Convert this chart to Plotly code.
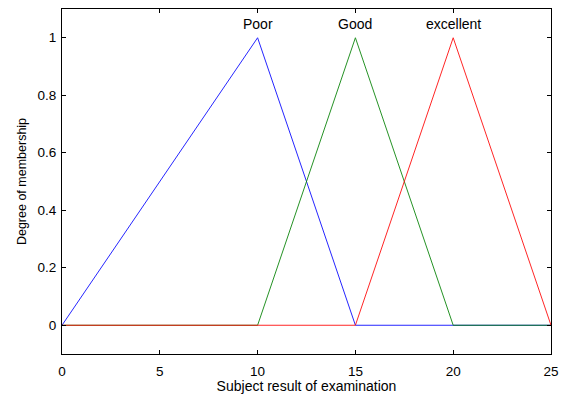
import plotly.graph_objects as go

# Triangular membership functions over the examination score
x_poor = [0, 10, 15, 25]
y_poor = [0, 1, 0, 0]
x_good = [0, 10, 15, 20, 25]
y_good = [0, 0, 1, 0, 0]
x_exc = [0, 15, 20, 25]
y_exc = [0, 0, 1, 0]

mf_names = ["Poor", "Good", "excellent"]
mf_peaks = [10, 15, 20]
label_y = 1.047

x_ticks = [0, 5, 10, 15, 20, 25]
y_ticks = [0, 0.2, 0.4, 0.6, 0.8, 1]
y_ticktext = ["0", "0.2", "0.4", "0.6", "0.8", "1"]

FONT = "Liberation Sans, Arial"

fig = go.Figure()
for xs, ys, col in [(x_poor, y_poor, "#0000ff"),
                    (x_good, y_good, "#008000"),
                    (x_exc, y_exc, "#ff0000")]:
    fig.add_trace(go.Scatter(x=xs, y=ys, mode="lines",
                             line=dict(color=col, width=1),
                             opacity=0.85, showlegend=False,
                             hoverinfo="skip"))

for name, pk in zip(mf_names, mf_peaks):
    fig.add_annotation(x=pk, y=label_y, text=name, showarrow=False,
                       font=dict(size=14, color="black", family=FONT),
                       xanchor="center", yanchor="middle")

axis_common = dict(showgrid=False, zeroline=False, showline=True,
                   linecolor="black", linewidth=1, mirror="ticks",
                   ticks="inside", ticklen=4, tickwidth=1,
                   tickcolor="black", automargin=False,
                   tickfont=dict(size=13.5, color="black", family=FONT))

fig.update_xaxes(range=[0, 25], tickvals=x_ticks, ticklabelstandoff=5,
                 title=dict(text="Subject result of examination",
                            font=dict(size=14, color="black", family=FONT),
                            standoff=4),
                 **axis_common)
fig.update_yaxes(range=[-0.1, 1.1], tickvals=y_ticks, ticktext=y_ticktext,
                 ticklabelstandoff=2,
                 title=dict(text="Degree of membership",
                            font=dict(size=12.5, color="black", family=FONT),
                            standoff=8),
                 **axis_common)

fig.update_layout(width=567, height=394,
                  margin=dict(l=62, r=16, t=9, b=40),
                  plot_bgcolor="white", paper_bgcolor="white")

fig.write_html("out.html")
